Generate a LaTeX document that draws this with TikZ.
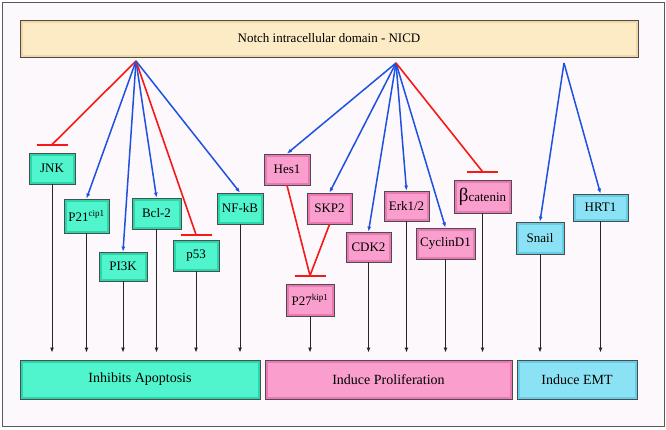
\documentclass[tikz,border=0pt]{standalone}
\usepackage{fontspec}
\setmainfont{Liberation Serif}
\usetikzlibrary{arrows.meta,shadows}

\definecolor{bgcol}{RGB}{252,248,252}
\definecolor{actblue}{RGB}{30,80,225}
\definecolor{inhred}{RGB}{245,25,25}
\definecolor{greenout}{RGB}{40,215,170}
\definecolor{greenin}{RGB}{80,245,205}
\definecolor{pinkout}{RGB}{235,120,180}
\definecolor{pinkin}{RGB}{249,158,205}
\definecolor{cyanout}{RGB}{100,205,232}
\definecolor{cyanin}{RGB}{140,226,245}
\definecolor{beigeout}{RGB}{240,215,165}
\definecolor{beigein}{RGB}{253,235,198}

\begin{document}
\begin{tikzpicture}[
            x=1pt, y=-1pt,
            declare function={
                BarHalf=15.5;
                BarGap=8;
            },
            bevel/.style 2 args={
                fill=#1,
                path picture={\fill[#2] ([shift={(2.5pt,2.5pt)}]path picture bounding box.south west) rectangle ([shift={(-2.5pt,-2.5pt)}]path picture bounding box.north east);}
            },
            box/.style={draw=black!70, line width=0.8pt, inner sep=0pt, font=\fontsize{13}{15}\selectfont,
                drop shadow={shadow xshift=1pt, shadow yshift=-1pt, opacity=0.35}},
            gbox/.style={box, bevel={greenout}{greenin}},
            pbox/.style={box, bevel={pinkout}{pinkin}},
            cbox/.style={box, bevel={cyanout}{cyanin}},
            act/.style={actblue, line width=1.5pt, -{Latex[length=5pt,width=4pt]}},
            inh/.style={inhred, line width=1.6pt},
            bar/.style={inhred, line width=2.2pt},
            down/.style={black!85, line width=1pt, -{Latex[length=5pt,width=4pt]}, shorten >=7pt}
        ]
            \useasboundingbox (0,0) rectangle (666,429);
            \draw[black!65, line width=1pt, fill=bgcol] (2,2) rectangle (664,426);

            \node[box, bevel={beigeout}{beigein}, minimum width=618pt, minimum height=37pt, font=\fontsize{13}{15}\selectfont] (nicd) at (329,38.5) {Notch intracellular domain - NICD};

            \node[gbox, minimum width=46pt, minimum height=31pt] (jnk) at (52,168.5) {JNK};
            \node[gbox, minimum width=45pt, minimum height=34pt] (p21) at (86.5,216) {P21\textsuperscript{cip1}};
            \node[gbox, minimum width=48pt, minimum height=29pt] (pi3k) at (123,266.5) {PI3K};
            \node[gbox, minimum width=49pt, minimum height=31pt] (bcl) at (156.5,213.5) {Bcl-2};
            \node[gbox, minimum width=46pt, minimum height=31pt] (p53) at (196,255.5) {p53};
            \node[gbox, minimum width=46pt, minimum height=31pt] (nfkb) at (240,208.5) {NF-kB};

            \node[pbox, minimum width=46pt, minimum height=31pt] (hes) at (287,169.5) {Hes1};
            \node[pbox, minimum width=45pt, minimum height=31pt] (skp) at (329.5,208.5) {SKP2};
            \node[pbox, minimum width=48pt, minimum height=32pt] (p27) at (310,300) {P27\textsuperscript{kip1}};
            \node[pbox, minimum width=45pt, minimum height=30pt] (cdk) at (368.5,247) {CDK2};
            \node[pbox, minimum width=45pt, minimum height=30pt] (erk) at (406.5,206) {Erk1/2};
            \node[pbox, minimum width=59pt, minimum height=31pt] (cyc) at (445.5,243.5) {CyclinD1};
            \node[pbox, minimum width=57pt, minimum height=33pt] (bcat) at (482.5,196.5) {{\fontsize{19}{19}\selectfont β}catenin};

            \node[cbox, minimum width=48pt, minimum height=32pt] (snail) at (540,238) {Snail};
            \node[cbox, minimum width=55pt, minimum height=27pt] (hrt) at (600.5,207.5) {HRT1};

            \node[gbox, minimum width=240pt, minimum height=39pt, font=\fontsize{14}{16}\selectfont] (apop) at (140,379.5) {Inhibits Apoptosis};
            \node[pbox, minimum width=247pt, minimum height=39pt, font=\fontsize{14}{16}\selectfont] (prolif) at (388.5,379.5) {Induce Proliferation};
            \node[cbox, minimum width=120pt, minimum height=39pt, font=\fontsize{14}{16}\selectfont] (emt) at (577,379.5) {Induce EMT};

            \coordinate (hubA) at (136,61);
            \coordinate (hubB) at (396,63);
            \coordinate (hubC) at (564,63);

            \draw[inh] (hubA) -- ([yshift=BarGap]jnk.north);
            \draw[act] (hubA) -- (p21.north);
            \draw[act] (hubA) -- (pi3k.north);
            \draw[act] (hubA) -- (bcl.north);
            \draw[inh] (hubA) -- ([yshift=5]p53.north);
            \draw[act] (hubA) -- (nfkb.north);

            \draw[act] (hubB) -- (hes.north);
            \draw[act] (hubB) -- (skp.north);
            \draw[act] (hubB) -- (cdk.north);
            \draw[act] (hubB) -- (erk.north);
            \draw[act] (hubB) -- (cyc.north);
            \draw[inh] (hubB) -- ([yshift=BarGap]bcat.north);

            \draw[act] (hubC) -- (snail.north);
            \draw[act] (hubC) -- (hrt.north);

            \draw[inh] (hes.south) -- ([yshift=BarGap]p27.north);
            \draw[inh] (skp.south) -- ([yshift=BarGap]p27.north);

            \draw[bar] ([xshift=-BarHalf, yshift=BarGap]jnk.north) -- ([xshift=BarHalf, yshift=BarGap]jnk.north);
            \draw[bar] ([xshift=-BarHalf, yshift=5]p53.north) -- ([xshift=BarHalf, yshift=5]p53.north);
            \draw[bar] ([xshift=-BarHalf, yshift=BarGap]bcat.north) -- ([xshift=BarHalf, yshift=BarGap]bcat.north);
            \draw[bar] ([xshift=-BarHalf, yshift=BarGap]p27.north) -- ([xshift=BarHalf, yshift=BarGap]p27.north);

            \foreach \t/\b in {jnk/apop, p21/apop, pi3k/apop, bcl/apop, p53/apop, nfkb/apop,
                               p27/prolif, cdk/prolif, erk/prolif, cyc/prolif, bcat/prolif,
                               snail/emt, hrt/emt}
                \draw[down] (\t.south) -- (\t.south |- \b.north);
        \end{tikzpicture}
\end{document}
